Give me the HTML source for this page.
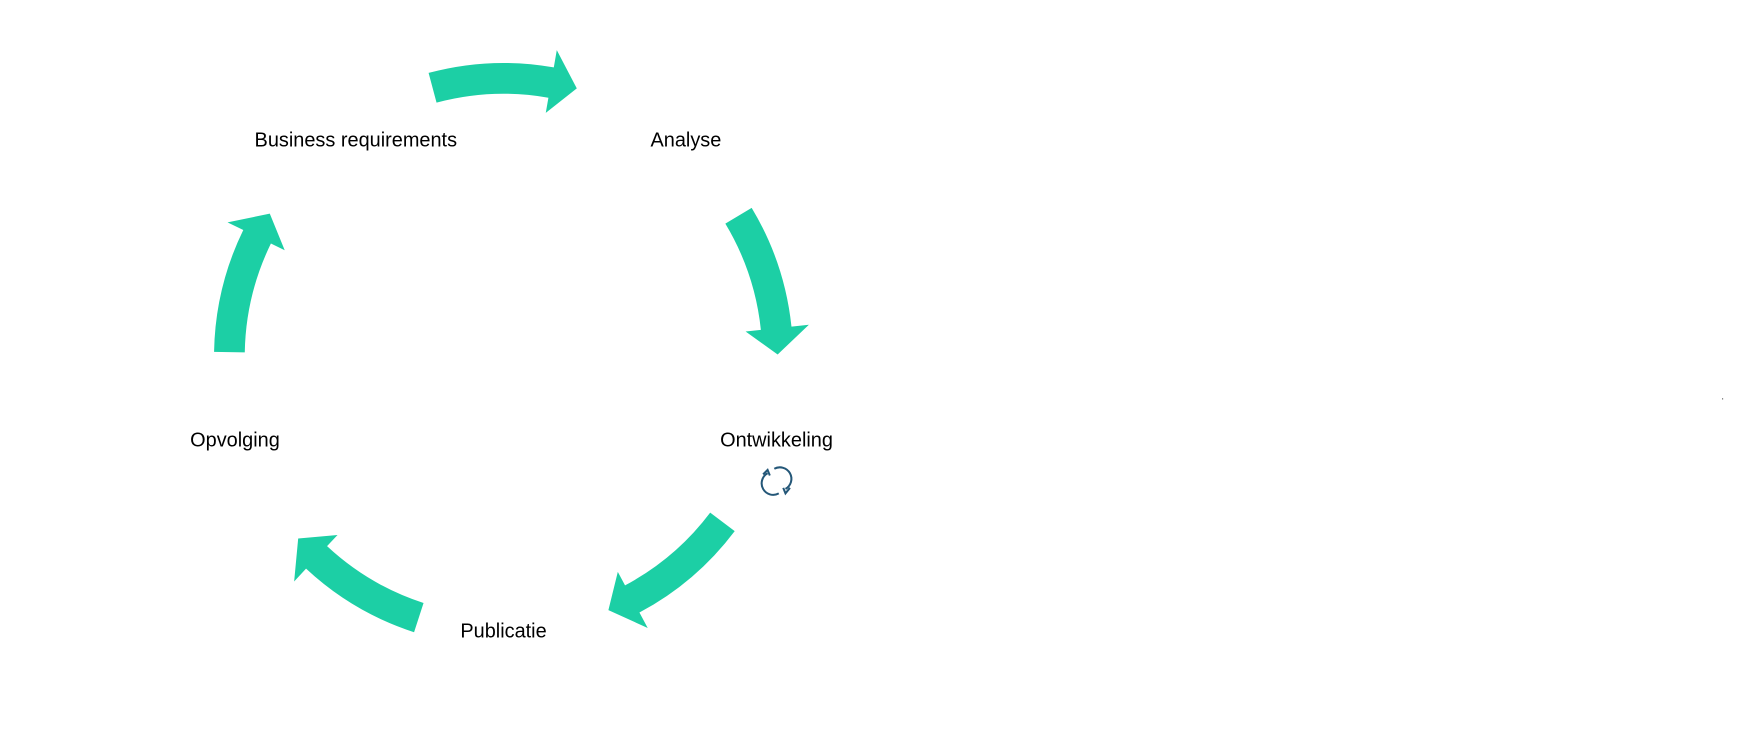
<!DOCTYPE html>
<html><head><meta charset="utf-8"><style>
html,body{margin:0;padding:0;background:#fff;}
svg{display:block;}
text{font-family:"Liberation Sans",Arial,sans-serif;font-size:17.8px;fill:#000;}
</style></head><body>
<svg width="1750" height="740" viewBox="0 0 1564 661.4" preserveAspectRatio="none" xmlns="http://www.w3.org/2000/svg">
<defs>
<path id="arr" d="M264,0 A264,264 0 0 1 239.3,111.6 L253.8,118.3 L215.4,126.9 L201.2,93.8 L213.9,99.7 A236,236 0 0 0 236,0 Z" fill="#1ccfa5"/>
</defs>
<g transform="translate(450,319) scale(0.98)">
<use href="#arr" transform="translate(0,-4) rotate(-105)"/>
<use href="#arr" transform="rotate(-31)"/>
<use href="#arr" transform="rotate(37)"/>
<use href="#arr" transform="rotate(108)"/>
<use href="#arr" transform="rotate(181)"/>
</g>
<text x="318" y="131" text-anchor="middle">Business requirements</text>
<text x="613" y="131" text-anchor="middle">Analyse</text>
<text x="694" y="399" text-anchor="middle">Ontwikkeling</text>
<text x="210" y="399" text-anchor="middle">Opvolging</text>
<text x="450" y="570" text-anchor="middle">Publicatie</text>
<g fill="none" stroke="#245778" stroke-width="1.8">
<path d="M686,423 A10,10 0 0 0 696,441"/>
<path d="M702,437 A10,10 0 0 0 692,419"/>
<path d="M682,424 L686,420 L688,425" />
<path d="M700,436 L702,441 L706,436" />
</g>
<rect x="1539" y="356" width="1" height="1" fill="#555"/>
</svg>
</body></html>
